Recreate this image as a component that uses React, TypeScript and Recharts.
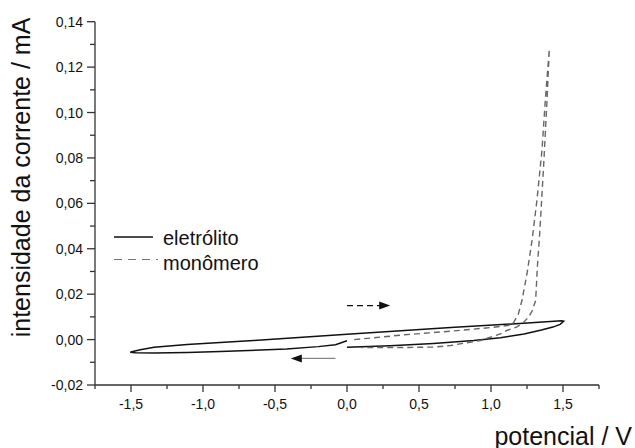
import { LineChart, Line, XAxis, YAxis, Legend, ReferenceLine } from 'recharts'

// voltametria: potencial (V) x corrente (mA)
const eletrolitoPotencial = [
  0.0, 0.3, 0.6, 0.88, 1.065, 1.23, 1.35, 1.43, 1.48, 1.505, 1.49, 1.2, 0.72, 0.0, -0.65, -1.11, -1.34, -1.435,
  -1.48, -1.505, -1.47, -1.34, -1.11, -0.88, -0.42, -0.2, -0.08, 0.0
]
const eletrolitoCorrente = [
  -0.0034, -0.0027, -0.0017, -0.0004, 0.0008, 0.0025, 0.0042, 0.0055, 0.0067, 0.0081, 0.0083, 0.0071, 0.0053,
  0.0024, -0.0004, -0.0022, -0.0034, -0.0045, -0.0051, -0.0056, -0.0058, -0.0059, -0.0057, -0.0053, -0.0041,
  -0.0031, -0.0023, -0.0005
]

const monomeroPotencial = [
  0.05, 0.4, 0.72, 1.0, 1.13, 1.157, 1.19, 1.215, 1.25, 1.285, 1.319, 1.354, 1.377, 1.405, 1.389, 1.365, 1.338,
  1.322, 1.31, 1.285, 1.26, 1.22, 1.18, 1.11, 1.065, 0.926, 0.72, 0.6, 0.37, 0.1
]
const monomeroCorrente = [
  0.0, 0.0021, 0.0037, 0.0053, 0.0063, 0.0075, 0.0113, 0.0172, 0.029, 0.0437, 0.0613, 0.0834, 0.1054, 0.128,
  0.1054, 0.076, 0.0466, 0.032, 0.0172, 0.0125, 0.0098, 0.0072, 0.0056, 0.004, 0.0025, -0.0004, -0.0026, -0.0033,
  -0.0035, -0.0035
]

const xTicks = [-1.75, -1.5, -1.25, -1.0, -0.75, -0.5, -0.25, 0, 0.25, 0.5, 0.75, 1.0, 1.25, 1.5, 1.75]
const yTicks = [-0.02, -0.01, 0, 0.01, 0.02, 0.03, 0.04, 0.05, 0.06, 0.07, 0.08, 0.09, 0.1, 0.11, 0.12, 0.13, 0.14]

const eletrolito = eletrolitoPotencial.map((x, i) => ({ x, y: eletrolitoCorrente[i] }))
const monomero = monomeroPotencial.map((x, i) => ({ x, y: monomeroCorrente[i] }))

const tickFont = { fontFamily: '"Liberation Sans", Arial, sans-serif', fontSize: 14, fill: '#111' }
const titleFont = { fontFamily: '"Liberation Sans", Arial, sans-serif', fontSize: 25, fill: '#111' }
const axisColor = '#333'

const isMajor = (v: number, step: number) => Math.abs(v / step - Math.round(v / step)) < 1e-6

function XTick({ x, y, payload }: any) {
  const major = isMajor(payload.value, 0.5)
  return (
    <g>
      <line x1={x} y1={y} x2={x} y2={y + (major ? 7 : 4)} stroke={axisColor} strokeWidth={1.3} />
      {major && Math.abs(payload.value) < 1.7 && (
        <text x={x} y={y + 24} textAnchor="middle" {...tickFont}>
          {payload.value.toFixed(1).replace('.', ',')}
        </text>
      )}
    </g>
  )
}

function YTick({ x, y, payload }: any) {
  const major = isMajor(payload.value, 0.02)
  return (
    <g>
      <line x1={x} y1={y} x2={x - (major ? 8 : 5)} y2={y} stroke={axisColor} strokeWidth={1.3} />
      {major && (
        <text x={x - 12} y={y + 5} textAnchor="end" {...tickFont}>
          {payload.value.toFixed(2).replace('.', ',')}
        </text>
      )}
    </g>
  )
}

function Seta({ x1, y1, x2, y2, dashed, color }: any) {
  const dir = x2 > x1 ? 1 : -1
  return (
    <g>
      <line
        x1={x1}
        y1={y1}
        x2={x2 - dir * 9}
        y2={y2}
        stroke={color}
        strokeWidth={1.3}
        strokeDasharray={dashed ? '6 4' : undefined}
      />
      <polygon points={`${x2},${y2} ${x2 - dir * 11},${y2 - 4} ${x2 - dir * 11},${y2 + 4}`} fill="#111" />
    </g>
  )
}

function LegendaBox() {
  return (
    <svg width={170} height={50} style={{ overflow: 'visible' }}>
      <line x1={0} y1={10} x2={39} y2={10} stroke="#111" strokeWidth={1.4} />
      <text x={49} y={17.5} fontFamily='"Liberation Sans", Arial, sans-serif' fontSize={20} fill="#111">
        eletrólito
      </text>
      <line x1={0} y1={32.5} x2={44} y2={32.5} stroke="#777" strokeWidth={1.2} strokeDasharray="8 6" />
      <text x={49} y={42.5} fontFamily='"Liberation Sans", Arial, sans-serif' fontSize={20} fill="#111">
        monômero
      </text>
    </svg>
  )
}

export default function App() {
  return (
    <div style={{ position: 'absolute', left: 0, top: 0, width: 635, height: 448, background: '#fff' }}>
      <LineChart width={635} height={448} margin={{ top: 21.7, right: 36, left: 0, bottom: 33 }}>
        <XAxis
          type="number"
          dataKey="x"
          domain={[-1.75, 1.75]}
          ticks={xTicks}
          interval={0}
          allowDataOverflow
          height={30}
          tickLine={false}
          tickSize={0}
          tickMargin={0}
          tick={<XTick />}
          axisLine={{ stroke: axisColor, strokeWidth: 1.3 }}
          label={{
            content: () => (
              <text x={632} y={445} textAnchor="end" {...titleFont}>
                potencial / V
              </text>
            )
          }}
        />
        <YAxis
          type="number"
          dataKey="y"
          domain={[-0.02, 0.14]}
          ticks={yTicks}
          interval={0}
          allowDataOverflow
          width={95}
          tickLine={false}
          tickSize={0}
          tickMargin={0}
          tick={<YTick />}
          axisLine={{ stroke: axisColor, strokeWidth: 1.3 }}
          label={{
            content: () => (
              <text transform="translate(30,177.5) rotate(-90)" textAnchor="middle" {...titleFont}>
                intensidade da corrente / mA
              </text>
            )
          }}
        />
        <Legend
          layout="horizontal"
          verticalAlign="middle"
          align="center"
          content={() => <LegendaBox />}
          wrapperStyle={{ left: 114, top: 226.7, width: 170, height: 50 }}
        />
        <ReferenceLine
          segment={[{ x: 0, y: 0.015 }, { x: 0.3, y: 0.015 }]}
          shape={(p: any) => <Seta {...p} dashed color="#111" />}
        />
        <ReferenceLine
          segment={[{ x: -0.08, y: -0.0083 }, { x: -0.39, y: -0.0083 }]}
          shape={(p: any) => <Seta {...p} color="#888" />}
        />
        <Line
          data={eletrolito}
          dataKey="y"
          type="linear"
          stroke="#111"
          strokeWidth={1.5}
          dot={false}
          isAnimationActive={false}
          name="eletrólito"
        />
        <Line
          data={monomero}
          dataKey="y"
          type="linear"
          stroke="#666"
          strokeWidth={1.4}
          strokeDasharray="6 4"
          dot={false}
          isAnimationActive={false}
          name="monômero"
        />
      </LineChart>
    </div>
  )
}
